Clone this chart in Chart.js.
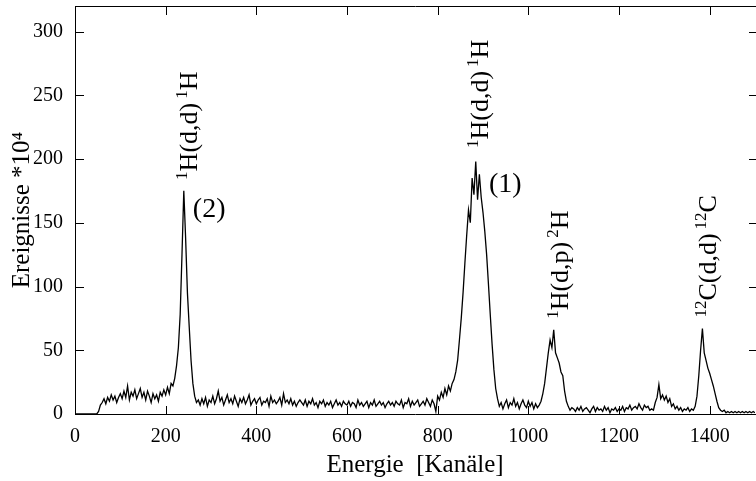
<!DOCTYPE html>
<html>
<head>
<meta charset="utf-8">
<script src="https://cdn.jsdelivr.net/npm/chart.js@4.4.0/dist/chart.umd.min.js"></script>
<style>
  html, body { margin: 0; padding: 0; background: #fff; }
</style>
</head>
<body>
<canvas id="spectrum" width="756" height="481"></canvas>
<script>
// Spectrum counts (x 10^4), one value every 4 channels from 0 to 1500
const channelStep = 4;
const counts = [
  0, 0, 0, 0, 0, 0, 0, 0, 0, 0, 0, 0, 0, 2, 7, 9, 12, 8, 13, 10, 15, 11, 14, 9, 13,
  16, 12, 18, 13, 22, 11, 17, 14, 19, 12, 16, 20, 13, 17, 11, 18, 14, 9, 16, 12, 15, 10, 17, 14, 19,
  15, 21, 16, 24, 22, 28, 38, 52, 78, 125, 175, 138, 95, 68, 42, 24, 14, 9, 11, 7, 12, 8, 13, 6, 11,
  9, 14, 8, 12, 18, 10, 13, 7, 11, 15, 9, 12, 8, 14, 10, 6, 12, 9, 13, 8, 11, 15, 7, 10, 12,
  8, 11, 13, 7, 10, 9, 12, 6, 14, 9, 11, 8, 10, 13, 7, 16, 9, 11, 8, 12, 7, 10, 6, 9, 11,
  9, 7, 11, 6, 10, 8, 12, 7, 9, 5, 10, 8, 11, 6, 9, 7, 10, 5, 8, 11, 7, 9, 6, 10, 8,
  7, 10, 6, 9, 8, 5, 11, 7, 9, 6, 8, 10, 5, 9, 7, 11, 6, 8, 10, 7, 9, 5, 8, 10, 7,
  9, 6, 10, 8, 7, 11, 5, 9, 8, 12, 6, 10, 7, 9, 11, 6, 8, 10, 7, 12, 9, 6, 11, 8, 2,
  14, 11, 17, 13, 20, 15, 22, 18, 24, 27, 33, 42, 58, 75, 95, 118, 140, 160, 150, 185, 172, 198, 168, 188, 170,
  158, 143, 125, 102, 78, 55, 35, 20, 12, 6, 9, 4, 8, 11, 5, 9, 7, 12, 6, 9, 4, 8, 11, 7, 5,
  10, 6, 9, 4, 8, 5, 7, 10, 16, 24, 36, 48, 58, 52, 66, 48, 44, 40, 33, 30, 18, 10, 6, 3, 5,
  4, 2, 5, 3, 6, 2, 4, 5, 3, 1, 4, 6, 2, 5, 3, 4, 2, 6, 3, 5, 1, 4, 3, 5, 2,
  4, 3, 6, 2, 5, 4, 7, 3, 5, 6, 4, 8, 5, 3, 7, 5, 6, 3, 4, 3, 9, 13, 23, 12, 15,
  11, 14, 9, 12, 6, 8, 4, 6, 3, 5, 2, 4, 3, 5, 2, 4, 3, 6, 14, 30, 50, 67, 48, 42, 36,
  32, 27, 22, 16, 10, 5, 3, 2, 3, 1, 2, 1, 2, 1, 2, 1, 2, 1, 2, 1, 2, 1, 2, 1, 2,
  1
];
const channels = counts.map((_, i) => i * channelStep);

const xTicks = [0, 200, 400, 600, 800, 1000, 1200, 1400];
const yTicks = [0, 50, 100, 150, 200, 250, 300];

// Reaction labels above the peaks: [text, superscript?]
const peakLabels = [
  { channel: 240, value: 175, parts: [['1', true], ['H(d,d)', false], ['1', true], ['H', false]] },
  { channel: 882, value: 200, parts: [['1', true], ['H(d,d)', false], ['1', true], ['H', false]] },
  { channel: 1059, value: 66, parts: [['1', true], ['H(d,p)', false], ['2', true], ['H', false]] },
  { channel: 1385, value: 67, parts: [['12', true], ['C(d,d)', false], ['12', true], ['C', false]] }
];
const peakNumbers = [
  { channel: 260, value: 160, text: '(2)' },
  { channel: 913, value: 180, text: '(1)' }
];

const serif = "'Liberation Serif', 'Times New Roman', serif";

// keep the plot box fixed: no extra room for half tick labels
function fixBox(size) {
  return s => {
    if (s.isHorizontal()) s.height = size; else s.width = size;
    s.paddingTop = 0; s.paddingBottom = 0; s.paddingLeft = 0; s.paddingRight = 0;
  };
}

const frameAndLabels = {
  id: 'frameAndLabels',
  afterDraw(chart) {
    const { ctx, chartArea: a, scales: { x, y } } = chart;
    ctx.save();
    ctx.strokeStyle = '#000';
    ctx.lineWidth = 1;
    ctx.beginPath();
    ctx.moveTo(a.left, a.top + 0.5);
    ctx.lineTo(a.right + 1, a.top + 0.5);
    xTicks.forEach(v => {
      const px = Math.round(x.getPixelForValue(v)) + 0.5;
      ctx.moveTo(px, a.bottom);
      ctx.lineTo(px, a.bottom - 8);
      ctx.moveTo(px, a.top);
      ctx.lineTo(px, a.top + 9);
    });
    yTicks.forEach(v => {
      const py = Math.round(y.getPixelForValue(v)) + 0.5;
      ctx.moveTo(a.left, py);
      ctx.lineTo(a.left + 9, py);
      ctx.moveTo(a.right + 1, py);
      ctx.lineTo(a.right - 6, py);
    });
    ctx.stroke();

    // rotated reaction labels, reading bottom to top
    ctx.fillStyle = '#000';
    ctx.textBaseline = 'alphabetic';
    ctx.textAlign = 'left';
    peakLabels.forEach(lab => {
      const px = x.getPixelForValue(lab.channel) + 13;
      const py = y.getPixelForValue(lab.value) - 11;
      ctx.save();
      ctx.translate(px, py);
      ctx.rotate(-Math.PI / 2);
      let cx = 0;
      lab.parts.forEach(([t, sup], i) => {
        ctx.font = sup ? '17px ' + serif : '26px ' + serif;
        if (sup && i > 0) cx += 4;
        ctx.fillText(t, cx, sup ? -10 : 0);
        cx += ctx.measureText(t).width;
      });
      ctx.restore();
    });

    ctx.font = '28px ' + serif;
    ctx.textBaseline = 'middle';
    peakNumbers.forEach(n => {
      ctx.fillText(n.text, x.getPixelForValue(n.channel), y.getPixelForValue(n.value));
    });
    ctx.restore();
  }
};

new Chart(document.getElementById('spectrum'), {
  type: 'line',
  data: {
    datasets: [{
      data: channels.map((c, i) => ({ x: c, y: counts[i] })),
      borderColor: '#000',
      borderWidth: 1.3,
      pointRadius: 0,
      tension: 0,
      fill: false
    }]
  },
  options: {
    responsive: false,
    devicePixelRatio: 1,
    animation: false,
    layout: { padding: { top: 6, right: 1, left: 0, bottom: 0 } },
    plugins: { legend: { display: false }, tooltip: { enabled: false } },
    scales: {
      x: {
        type: 'linear',
        min: 0,
        max: 1500,
        afterFit: fixBox(67),
        afterBuildTicks: s => { s.ticks = xTicks.map(v => ({ value: v })); },
        grid: { display: false, drawTicks: false },
        border: { display: true, color: '#000', width: 1 },
        ticks: {
          color: '#000', padding: 11, maxRotation: 0, autoSkip: false,
          font: { family: serif, size: 20 },
          callback: v => String(v)
        },
        title: {
          display: true,
          text: 'Energie  [Kanäle]',
          color: '#000',
          font: { family: serif, size: 25, lineHeight: 1.2 },
          padding: { top: 0, bottom: 1 }
        }
      },
      y: {
        min: 0,
        max: 320,
        afterFit: fixBox(75),
        afterBuildTicks: s => { s.ticks = yTicks.map(v => ({ value: v })); },
        grid: { display: false, drawTicks: false },
        border: { display: true, color: '#000', width: 1 },
        ticks: {
          color: '#000', padding: 12, autoSkip: false,
          font: { family: serif, size: 20 },
          callback: v => String(v)
        },
        title: {
          display: true,
          text: 'Ereignisse *10⁴',
          color: '#000',
          font: { family: serif, size: 25, lineHeight: 1.2 },
          padding: { top: 7, bottom: 0 }
        }
      }
    }
  },
  plugins: [frameAndLabels]
});
</script>
</body>
</html>
